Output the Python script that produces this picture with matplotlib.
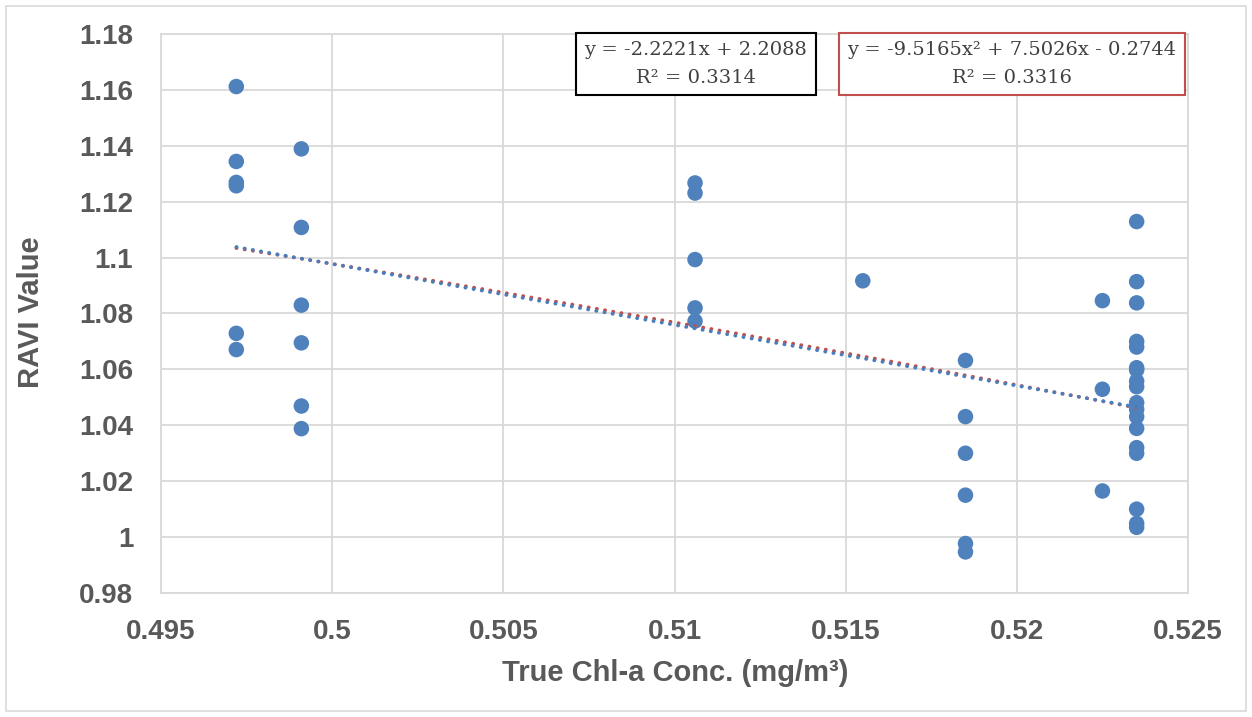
import numpy as np
import matplotlib
matplotlib.use("Agg")
import matplotlib.pyplot as plt
from matplotlib.patches import Rectangle

# ---- data ----
x_col1 = 0.4972
y_col1 = [1.1612, 1.1344, 1.1269, 1.1257, 1.0729, 1.0671]
x_col2 = 0.4991
y_col2 = [1.1389, 1.1108, 1.0830, 1.0695, 1.0469, 1.0388]
x_col3 = 0.5106
y_col3 = [1.1267, 1.1231, 1.0993, 1.0820, 1.0773]
x_col4 = 0.5155
y_col4 = [1.0917]
x_col5 = 0.5185
y_col5 = [1.0632, 1.0431, 1.0300, 1.0150, 0.9977, 0.9947]
x_col6 = 0.5225
y_col6 = [1.0846, 1.0529, 1.0165]
x_col7 = 0.5235
y_col7 = [1.1129, 1.0914, 1.0838, 1.0700, 1.0680, 1.0606, 1.0598, 1.0558,
          1.0538, 1.0481, 1.0457, 1.0431, 1.0389, 1.0320, 1.0300, 1.0100,
          1.0049, 1.0035]

x_ticks = [0.495, 0.5, 0.505, 0.51, 0.515, 0.52, 0.525]
x_tick_labels = ["0.495", "0.5", "0.505", "0.51", "0.515", "0.52", "0.525"]
y_ticks = [0.98, 1.0, 1.02, 1.04, 1.06, 1.08, 1.1, 1.12, 1.14, 1.16, 1.18]
y_tick_labels = ["0.98", "1", "1.02", "1.04", "1.06", "1.08", "1.1", "1.12", "1.14", "1.16", "1.18"]

lin_label = "y = -2.2221x + 2.2088\nR² = 0.3314"
poly_label = "y = -9.5165x² + 7.5026x - 0.2744\nR² = 0.3316"

x_label = "True Chl-a Conc. (mg/m³)"
y_label = "RAVI Value"

# ---- assemble ----
cols = [(x_col1, y_col1), (x_col2, y_col2), (x_col3, y_col3), (x_col4, y_col4),
        (x_col5, y_col5), (x_col6, y_col6), (x_col7, y_col7)]
xs = np.concatenate([[cx] * len(cy) for cx, cy in cols])
ys = np.concatenate([cy for _, cy in cols])

W, H = 1252, 717
fig = plt.figure(figsize=(W / 100, H / 100), dpi=100)
L, R, T, B = 161, 1188, 34, 593
ax = fig.add_axes([L / W, 1 - B / H, (R - L) / W, (B - T) / H])

grid_c = "#D9D9D9"
txt_c = "#595959"
marker_c = "#4F81BD"

ax.set_xlim(0.495, 0.525)
ax.set_ylim(0.98, 1.18)
ax.set_xticks(x_ticks)
ax.set_xticklabels(x_tick_labels)
ax.set_yticks(y_ticks)
ax.set_yticklabels(y_tick_labels)
ax.grid(True, color=grid_c, linewidth=1.3)
ax.set_axisbelow(True)
for s in ax.spines.values():
    s.set_color(grid_c)
    s.set_linewidth(1.3)
ax.tick_params(axis="x", length=0, pad=19, labelcolor=txt_c)
ax.tick_params(axis="y", length=0, pad=20, labelcolor=txt_c)
for lab in ax.get_xticklabels() + ax.get_yticklabels():
    lab.set_fontfamily("Liberation Sans")
    lab.set_fontweight("bold")
    lab.set_fontsize(20)

ax.scatter(xs, ys, s=125, color=marker_c, edgecolors="none", zorder=3)

# trendlines
xf = np.linspace(xs.min(), xs.max(), 200)
p2 = np.polyfit(xs, ys, 2)
p1 = np.polyfit(xs, ys, 1)
ax.plot(xf, np.polyval(p2, xf), color="#C0504D", lw=2.6,
        linestyle=(0, (0.1, 2.2)), dash_capstyle="round", zorder=4)
ax.plot(xf, np.polyval(p1, xf), color="#4A7EBB", lw=2.6,
        linestyle=(0, (0.1, 2.2)), dash_capstyle="round", zorder=5)

fig.text(675 / W, 1 - 681 / H, x_label, ha="center", va="baseline",
         fontfamily="Liberation Sans", fontweight="bold", fontsize=21,
         color=txt_c)
fig.text(31 / W, 1 - 312 / H, y_label, ha="center", va="center",
         rotation=90, fontfamily="Liberation Sans", fontweight="bold",
         fontsize=21, color=txt_c)

# equation boxes
fig.text(696 / W, 1 - 64 / H, lin_label, ha="center", va="center",
         fontfamily="DejaVu Serif", fontsize=14, color="#404040",
         linespacing=1.65,
         bbox=dict(boxstyle="square,pad=0.45", fc="white", ec="black", lw=1.5))
fig.text(1012 / W, 1 - 64 / H, poly_label, ha="center", va="center",
         fontfamily="DejaVu Serif", fontsize=14, color="#404040",
         linespacing=1.65,
         bbox=dict(boxstyle="square,pad=0.45", fc="white", ec="#C0504D", lw=1.5))

# outer chart border
fig.patches.append(Rectangle((6 / W, 6 / H), (W - 12) / W, (H - 12) / H,
                             transform=fig.transFigure, fill=False,
                             edgecolor="#D9D9D9", linewidth=1.2))

fig.savefig("out.png", dpi=100)
